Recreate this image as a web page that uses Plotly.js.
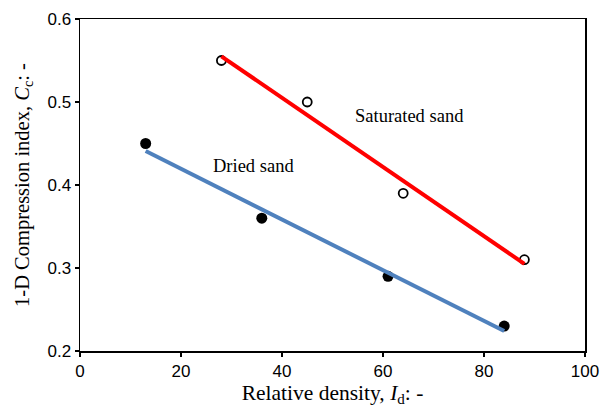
<!DOCTYPE html>
<html>
<head>
<meta charset="utf-8">
<script src="https://cdn.plot.ly/plotly-3.0.1.min.js"></script>
<style>html,body{margin:0;padding:0;background:#fff;}#chart{width:602px;height:410px;}</style>
</head>
<body>
<div id="chart"></div>
<script>
// Measured points
var driedX = [13, 36, 61, 84];
var driedY = [0.45, 0.36, 0.29, 0.23];
var satX = [28, 45, 64, 88];
var satY = [0.55, 0.50, 0.39, 0.31];
// Fitted trend lines (end points)
var driedFitX = [13, 84];
var driedFitY = [0.441, 0.224];
var satFitX = [28, 88];
var satFitY = [0.555, 0.305];
// Axis ticks
var xTicks = [0, 20, 40, 60, 80, 100];
var yTicks = [0.2, 0.3, 0.4, 0.5, 0.6];
var yTickText = ["0.2", "0.3", "0.4", "0.5", "0.6"];

var serif = "Liberation Serif, Times New Roman, serif";
var sans = "Liberation Sans, Arial, sans-serif";

var traces = [
  {x: driedX, y: driedY, mode: "markers", type: "scatter",
   marker: {color: "#000", size: 11, symbol: "circle"}, hoverinfo: "skip"},
  {x: satX, y: satY, mode: "markers", type: "scatter",
   marker: {color: "#fff", size: 9, symbol: "circle", line: {color: "#000", width: 1.8}}, hoverinfo: "skip"},
  {x: driedFitX, y: driedFitY, mode: "lines", type: "scatter",
   line: {color: "#4F81BD", width: 4}, hoverinfo: "skip"},
  {x: satFitX, y: satFitY, mode: "lines", type: "scatter",
   line: {color: "#FF0000", width: 4}, hoverinfo: "skip"}
];

var layout = {
  width: 602, height: 410,
  margin: {l: 80, r: 17, t: 19, b: 59},
  paper_bgcolor: "#fff", plot_bgcolor: "#fff",
  showlegend: false,
  xaxis: {
    range: [0, 100], tickvals: xTicks, ticks: "outside", ticklen: 4, tickwidth: 1.5,
    tickcolor: "#000", showline: true, linecolor: "#000", linewidth: 1.5, mirror: true,
    showgrid: false, zeroline: false,
    tickfont: {family: sans, size: 17, color: "#000"},
    title: {text: "Relative density, <i>I</i><sub>d</sub>: -", standoff: 4,
            font: {family: serif, size: 21.5, color: "#000"}}
  },
  yaxis: {
    range: [0.2, 0.6], tickvals: yTicks, ticktext: yTickText, ticks: "outside", ticklen: 4, tickwidth: 1.5,
    tickcolor: "#000", showline: true, linecolor: "#000", linewidth: 1.5, mirror: true,
    showgrid: false, zeroline: false,
    tickfont: {family: sans, size: 17, color: "#000"},
    title: {text: "1-D Compression index, <i>C</i><sub>c</sub>: -", standoff: 12,
            font: {family: serif, size: 20.5, color: "#000"}}
  },
  annotations: [
    {x: 54, y: 0.483, xref: "x", yref: "y", text: "Saturated sand", showarrow: false,
     xanchor: "left", font: {family: serif, size: 18.5, color: "#000"}},
    {x: 26, y: 0.423, xref: "x", yref: "y", text: "Dried sand", showarrow: false,
     xanchor: "left", font: {family: serif, size: 18.5, color: "#000"}}
  ]
};

Plotly.newPlot("chart", traces, layout, {staticPlot: true, displayModeBar: false});
</script>
</body>
</html>
